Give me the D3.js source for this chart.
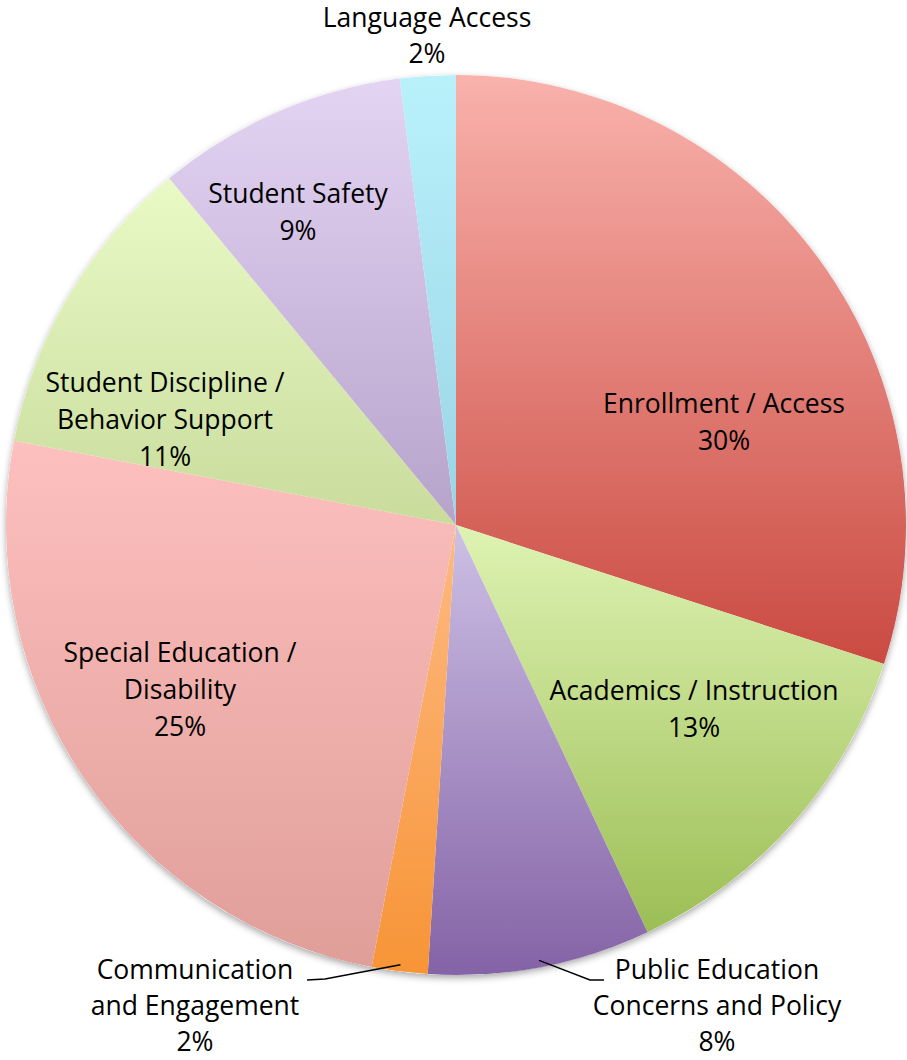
<!DOCTYPE html>
<html>
<head>
<meta charset="utf-8">
<script src="https://cdn.jsdelivr.net/npm/d3@7"></script>
<style>
  html, body { margin: 0; padding: 0; background: #fff; }
  svg { display: block; }
  text { font-family: "Open Sans", Lato, sans-serif; fill: #000; }
</style>
</head>
<body>
<svg id="chart" width="907" height="1060"></svg>
<script>
// Share of cases by issue area (percent), clockwise from 12 o'clock
const categories = [
  "Enrollment / Access",
  "Academics / Instruction",
  "Public Education Concerns and Policy",
  "Communication and Engagement",
  "Special Education / Disability",
  "Student Discipline / Behavior Support",
  "Student Safety",
  "Language Access"
];
const values = [30, 13, 8, 2, 25, 11, 9, 2];

// Label text lines per slice
const labelLines = [
  ["Enrollment / Access"],
  ["Academics / Instruction"],
  ["Public Education", "Concerns and Policy"],
  ["Communication", "and Engagement"],
  ["Special Education /", "Disability"],
  ["Student Discipline /", "Behavior Support"],
  ["Student Safety"],
  ["Language Access"]
];

// Gradient stops (top, bottom) for each slice
const topColors    = ["#f9b2ac", "#def3b3", "#cdc0e5", "#fdba82", "#fdc0be", "#e9fac6", "#e4d4f3", "#b9f1fb"];
const bottomColors = ["#ca4a41", "#9cbe55", "#8463a6", "#f79436", "#e09e99", "#c9dc9c", "#b6a3cb", "#9ad4e5"];

// Label anchor (center x, first-line baseline y, line step) per slice
const labelPos = [
  [724, 413, 37], [694, 700, 37], [717, 979, 36], [195, 979, 36],
  [180, 662, 37], [165, 392, 37], [298, 203, 37], [427, 27, 36]
];
// Slices whose labels sit outside the pie get a leader line
const leaders = {
  2: { elbow: [590, 980], end: [604, 980] },
  3: { elbow: [325, 979], end: [307, 980] }
};

const svg = d3.select("#chart");
const cx = 456, cy = 525, R = 450;

const data = categories.map((c, i) => ({ name: c, value: values[i], i }));

const pie = d3.pie().value(d => d.value).sort(null);
const arc = d3.arc().innerRadius(0).outerRadius(R);
const arcs = pie(data);

const defs = svg.append("defs");
const shadow = defs.append("filter").attr("id", "shadow")
  .attr("x", "-5%").attr("y", "-5%").attr("width", "110%").attr("height", "112%");
shadow.append("feDropShadow").attr("dx", 0).attr("dy", 3)
  .attr("stdDeviation", 3.5).attr("flood-color", "#000").attr("flood-opacity", 0.35);

arcs.forEach((a, i) => {
  const g = defs.append("linearGradient").attr("id", "grad" + i)
    .attr("x1", 0).attr("y1", 0).attr("x2", 0).attr("y2", 1);
  g.append("stop").attr("offset", "0%").attr("stop-color", topColors[i]);
  g.append("stop").attr("offset", "100%").attr("stop-color", bottomColors[i]);
});

const pieG = svg.append("g").attr("transform", `translate(${cx},${cy})`);

// Shadow disc behind the slices
pieG.append("circle").attr("r", R).attr("fill", "#fff").attr("filter", "url(#shadow)");

pieG.selectAll("path.slice")
  .data(arcs)
  .join("path")
  .attr("class", "slice")
  .attr("d", arc)
  .attr("fill", (d, i) => `url(#grad${i})`);

// Leader lines from slice edge to outside labels
const edgeArc = d3.arc().innerRadius(R * 0.985).outerRadius(R * 0.985);
Object.keys(leaders).forEach(k => {
  const i = +k;
  const [ex, ey] = edgeArc.centroid(arcs[i]);
  const L = leaders[k];
  svg.append("polyline")
    .attr("points", [[cx + ex, cy + ey], L.elbow, L.end].map(p => p.join(",")).join(" "))
    .attr("fill", "none").attr("stroke", "#000").attr("stroke-width", 1.5);
});

// Labels: category lines followed by percentage
const fmt = d3.format(".0%");
arcs.forEach((a, i) => {
  const lines = labelLines[i].concat([fmt(a.data.value / d3.sum(values))]);
  const [lx, ly, step] = labelPos[i];
  const t = svg.append("text")
    .attr("text-anchor", "middle")
    .attr("font-size", 26.5);
  lines.forEach((s, j) => {
    t.append("tspan").attr("x", lx).attr("y", ly + j * step).text(s);
  });
});
</script>
</body>
</html>
